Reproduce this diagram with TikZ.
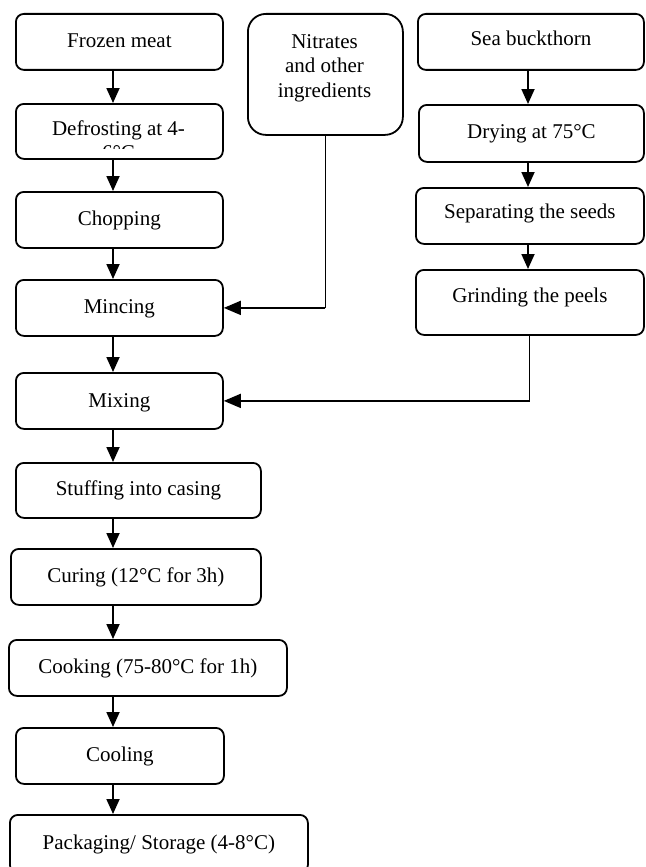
\documentclass[tikz,border=0pt]{standalone}
\usepackage{fontspec}
\setmainfont{Liberation Serif}
\usetikzlibrary{arrows.meta}
\begin{document}
\begin{tikzpicture}[x=1pt,y=-1pt,
  box/.style={draw, line width=1.8pt, rounded corners=8pt, anchor=north west, inner sep=0pt,
    text height=15pt, text depth=4pt, font=\fontsize{21}{24}\selectfont},
  txt/.style={inner sep=0pt, font=\fontsize{21}{24.5}\selectfont, align=center},
  varrow/.style={line width=1.8pt, -{Triangle[length=15pt,width=13pt]}},
  harrow/.style={line width=1.6pt, -{Triangle[length=17pt,width=14pt]}},
  feed/.style={line width=0.9pt}]
\useasboundingbox (0,0) rectangle (645,867);
\clip (0,0) rectangle (645,867);
\fill[white] (0,0) rectangle (645,867);

% left column
\node[box, minimum width=207pt, minimum height=56pt] (frozen) at (15,13) {Frozen meat};
\node[box, minimum width=207pt, minimum height=55pt] (defrost) at (15,103) {};
\begin{scope}
  \clip (15,103) rectangle (222,148);
  \node[txt, anchor=base] (defrostA) at (118.5,135) {Defrosting at 4-};
  \node[txt, anchor=base] (defrostB) at (118.5,159) {6°C};
\end{scope}
\node[box, minimum width=207pt, minimum height=56pt] (chop) at (15,191) {Chopping};
\node[box, minimum width=207pt, minimum height=56pt] (minc) at (15,279) {Mincing};
\node[box, minimum width=207pt, minimum height=56pt, text depth=1pt] (mix) at (15,372) {Mixing};
\node[box, minimum width=245pt, minimum height=55pt] (stuff) at (15,462) {Stuffing into casing};
\node[box, minimum width=250pt, minimum height=56pt] (cure) at (10,548) {Curing (12°C for 3h)};
\node[box, minimum width=278pt, minimum height=56pt] (cook) at (8,639) {Cooking (75-80°C for 1h)};
\node[box, minimum width=208pt, minimum height=56pt] (cool) at (15,727) {Cooling};
\node[box, minimum width=298pt, minimum height=58pt] (pack) at (9,814) {Packaging/ Storage (4-8°C)};

% middle
\node[box, rounded corners=18pt, minimum width=155pt, minimum height=121pt] (nit) at (247,13) {};
\node[txt] (nitt) at (324.5,68) {Nitrates\\and other\\ingredients};

% right column
\node[box, minimum width=226pt, minimum height=56pt, text depth=7pt] (sea) at (417,13) {Sea buckthorn};
\node[box, minimum width=225pt, minimum height=57pt] (dry) at (418,104) {Drying at 75°C};
\node[box, minimum width=228pt, minimum height=56pt, text depth=9pt] (sep) at (415,187) {Separating the seeds};
\node[box, minimum width=228pt, minimum height=65pt, text depth=14pt] (grind) at (415,269) {Grinding the peels};

% arrows
\coordinate (lc) at (113,0);
\coordinate (rc) at (528,0);
\draw[varrow] (frozen.south -| lc) -- (defrost.north -| lc);
\draw[varrow] (defrost.south -| lc) -- (chop.north -| lc);
\draw[varrow] (chop.south -| lc) -- (minc.north -| lc);
\draw[varrow] (minc.south -| lc) -- (mix.north -| lc);
\draw[varrow] (mix.south -| lc) -- (stuff.north -| lc);
\draw[varrow] (stuff.south -| lc) -- (cure.north -| lc);
\draw[varrow] (cure.south -| lc) -- (cook.north -| lc);
\draw[varrow] (cook.south -| lc) -- (cool.north -| lc);
\draw[varrow] (cool.south -| lc) -- (pack.north -| lc);

\draw[varrow] (sea.south -| rc) -- (dry.north -| rc);
\draw[varrow] (dry.south -| rc) -- (sep.north -| rc);
\draw[varrow] (sep.south -| rc) -- (grind.north -| rc);

\coordinate (nc) at (nit.south |- minc.east);
\draw[feed] (nit.south) -- (nc);
\draw[harrow] (nc) -- (minc.east);
\coordinate (gc) at (grind.south |- mix.east);
\draw[feed] (grind.south) -- (gc);
\draw[harrow] (gc) -- (mix.east);
\end{tikzpicture}
\end{document}
